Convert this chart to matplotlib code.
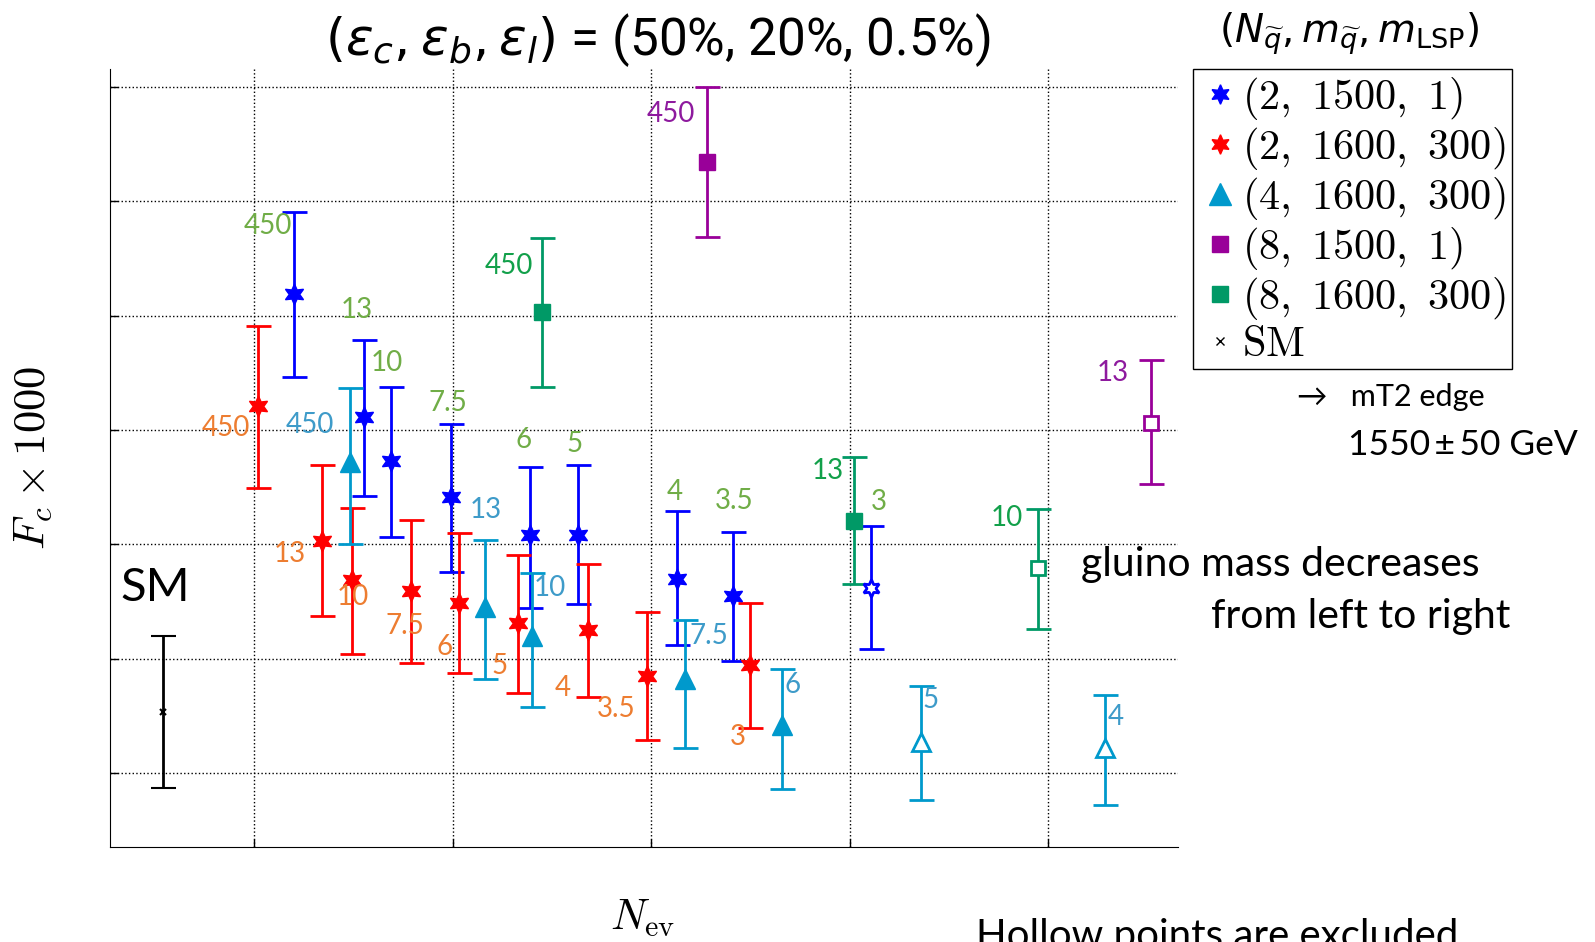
import matplotlib.pyplot as plt
from matplotlib.lines import Line2D

plt.rcParams['font.family'] = ['Lato', 'DejaVu Sans']
plt.rcParams['mathtext.fontset'] = 'cm'

# Values (the original has no tick labels, so units are arbitrary)
sm_x = [0.54]
sm_y = [1.53]
sm_lo = [0.87]
sm_hi = [2.20]

# (2, 1500, 1)
blue_x = [1.20, 1.55, 1.69, 1.99, 2.39, 2.63, 3.13, 3.41, 4.11]
blue_y = [5.19, 4.11, 3.73, 3.41, 3.08, 3.08, 2.70, 2.55, 2.62]
blue_lo = [4.46, 3.42, 3.06, 2.76, 2.44, 2.48, 2.12, 1.98, 2.08]
blue_hi = [5.91, 4.79, 4.38, 4.05, 3.68, 3.69, 3.29, 3.11, 3.16]
blue_lab = ['450', '13', '10', '7.5', '6', '5', '4', '3.5', '3']
blue_hollow = [False, False, False, False, False, False, False, False, True]

# (2, 1600, 300)
red_x = [1.02, 1.34, 1.49, 1.79, 2.03, 2.33, 2.68, 2.98, 3.50]
red_y = [4.21, 3.03, 2.69, 2.59, 2.49, 2.31, 2.25, 1.85, 1.94]
red_lo = [3.49, 2.37, 2.04, 1.96, 1.87, 1.70, 1.66, 1.29, 1.39]
red_hi = [4.91, 3.69, 3.32, 3.21, 3.10, 2.91, 2.83, 2.41, 2.49]
red_lab = ['450', '13', '10', '7.5', '6', '5', '4', '3.5', '3']
red_hollow = [False] * 9

# (4, 1600, 300)
cyan_x = [1.48, 2.16, 2.40, 3.17, 3.66, 4.36, 5.29]
cyan_y = [3.72, 2.45, 2.20, 1.82, 1.42, 1.27, 1.22]
cyan_lo = [3.00, 1.82, 1.58, 1.22, 0.86, 0.76, 0.72]
cyan_hi = [4.37, 3.04, 2.75, 2.34, 1.91, 1.76, 1.68]
cyan_lab = ['450', '13', '10', '7.5', '6', '5', '4']
cyan_hollow = [False, False, False, False, False, True, True]

# (8, 1500, 1)
purple_x = [3.28, 5.52]
purple_y = [6.35, 4.06]
purple_lo = [5.69, 3.53]
purple_hi = [7.00, 4.61]
purple_lab = ['450', '13']
purple_hollow = [False, True]

# (8, 1600, 300)
green_x = [2.45, 4.02, 4.95]
green_y = [5.03, 3.20, 2.79]
green_lo = [4.38, 2.65, 2.26]
green_hi = [5.68, 3.76, 3.31]
green_lab = ['450', '13', '10']
green_hollow = [False, False, True]

# label offsets in pixels from each point
blue_off = [(-26, 68), (-7, 107), (-5, 98), (-3, 94), (-7, 95), (-3, 91), (-2, 87), (2, 95), (7, 86)]
red_off = [(-33, -22), (-32, -13), (1, -17), (-6, -35), (-14, -44), (-19, -43), (-25, -58), (-31, -33), (-13, -72)]
cyan_off = [(-40, 37), (1, 97), (18, 48), (24, 43), (10, 40), (10, 42), (10, 31)]
purple_off = [(-36, 48), (-38, 50)]
green_off = [(-33, 46), (-26, 50), (-31, 50)]

hexagram = (6, 1, 0)

fig = plt.figure(figsize=(15.95, 9.42), dpi=100)
ax = fig.add_axes([0.069, 0.1008, 0.6696, 0.826])


def draw(x, y, lo, hi, hollow, color, marker, ms, labels, lab_color, offsets):
    yerr = [[yy - l for yy, l in zip(y, lo)], [h - yy for yy, h in zip(y, hi)]]
    ax.errorbar(x, y, yerr=yerr, fmt='none', ecolor=color, elinewidth=2,
                capsize=9, capthick=2, zorder=2)
    for xi, yi, hol in zip(x, y, hollow):
        if hol:
            ax.plot(xi, yi, marker=marker, ms=ms * 0.85, mfc='white', mec=color,
                    mew=2, ls='none', zorder=3)
        else:
            ax.plot(xi, yi, marker=marker, ms=ms, color=color, mec=color,
                    ls='none', zorder=3)
    for xi, yi, t, off in zip(x, y, labels, offsets):
        ax.annotate(t, (xi, yi), xytext=off, textcoords='offset pixels',
                    ha='center', va='center', color=lab_color, fontsize=20)


draw(blue_x, blue_y, blue_lo, blue_hi, blue_hollow, '#0000FF', hexagram, 15,
     blue_lab, '#70AD47', blue_off)
draw(red_x, red_y, red_lo, red_hi, red_hollow, '#FF0000', hexagram, 15,
     red_lab, '#ED7D31', red_off)
draw(cyan_x, cyan_y, cyan_lo, cyan_hi, cyan_hollow, '#0099CC', '^', 15,
     cyan_lab, '#3E9BC9', cyan_off)
draw(purple_x, purple_y, purple_lo, purple_hi, purple_hollow, '#990099', 's', 12,
     purple_lab, '#8E1A9E', purple_off)
draw(green_x, green_y, green_lo, green_hi, green_hollow, '#009966', 's', 12,
     green_lab, '#12A04A', green_off)

sm_err = [[sm_y[0] - sm_lo[0]], [sm_hi[0] - sm_y[0]]]
ax.errorbar(sm_x, sm_y, yerr=sm_err, fmt='x', color='black', ms=5, mew=1.5,
            elinewidth=2, capsize=9, capthick=2)

ax.set_xlim(0.272, 5.656)
ax.set_ylim(0.35, 7.16)
ax.set_xticks([1, 2, 3, 4, 5])
ax.set_yticks([1, 2, 3, 4, 5, 6, 7])
ax.set_xticklabels([])
ax.set_yticklabels([])
ax.tick_params(direction='in', length=6, width=1)
ax.grid(True, color='black', linestyle=':', linewidth=1)
ax.spines['top'].set_visible(False)
ax.spines['right'].set_visible(False)

handles = [
    Line2D([], [], marker=hexagram, color='#0000FF', ls='none', ms=14),
    Line2D([], [], marker=hexagram, color='#FF0000', ls='none', ms=14),
    Line2D([], [], marker='^', color='#0099CC', ls='none', ms=16),
    Line2D([], [], marker='s', color='#990099', ls='none', ms=12),
    Line2D([], [], marker='s', color='#009966', ls='none', ms=12),
    Line2D([], [], marker='x', color='black', ls='none', ms=6),
]
names = [r'$(2,\ 1500,\ 1)$', r'$(2,\ 1600,\ 300)$', r'$(4,\ 1600,\ 300)$',
         r'$(8,\ 1500,\ 1)$', r'$(8,\ 1600,\ 300)$', r'$\mathrm{SM}$']
leg = ax.legend(handles, names, loc='upper left', bbox_to_anchor=(0.748, 0.9268),
                bbox_transform=fig.transFigure, borderaxespad=0, fontsize=30.5,
                fancybox=False, framealpha=1, edgecolor='black',
                handletextpad=0.05, handlelength=0.95, labelspacing=0.07,
                borderpad=0.15)
leg.get_frame().set_linewidth(1)

fig.text(0.4126, 0.957, r'$(\epsilon_c,\epsilon_b,\epsilon_l)$ = (50%, 20%, 0.5%)',
         ha='center', va='center', fontsize=37, family='Roboto',
         math_fontfamily='dejavusans')
fig.text(0.8457, 0.9643, r'$(N_{\widetilde{q}},m_{\widetilde{q}},m_{\mathrm{LSP}})$',
         ha='center', va='center', fontsize=28, math_fontfamily='dejavusans')

fig.text(0.021, 0.514, r'$F_c \times 1000$', rotation=90, ha='center',
         va='center', fontsize=32)
fig.text(0.403, 0.025, r'$N_{\rm ev}$', ha='center', va='center', fontsize=31)

fig.text(0.0976, 0.3758, 'SM', ha='center', va='center', fontsize=34)
fig.text(0.813, 0.5789, '\u2192   mT2 edge', ha='left', va='center', fontsize=22)
fig.text(0.845, 0.528, '1550\u2009\u00b1\u200950 GeV', ha='left', va='center', fontsize=25.5)
fig.text(0.6777, 0.4006, 'gluino mass decreases', ha='left', va='center', fontsize=29.5)
fig.text(0.759, 0.3456, 'from left to right', ha='left', va='center', fontsize=29.5)
fig.text(0.612, -0.006, 'Hollow points are excluded', ha='left', va='baseline',
         fontsize=29)

fig.savefig('out.png', dpi=100)
